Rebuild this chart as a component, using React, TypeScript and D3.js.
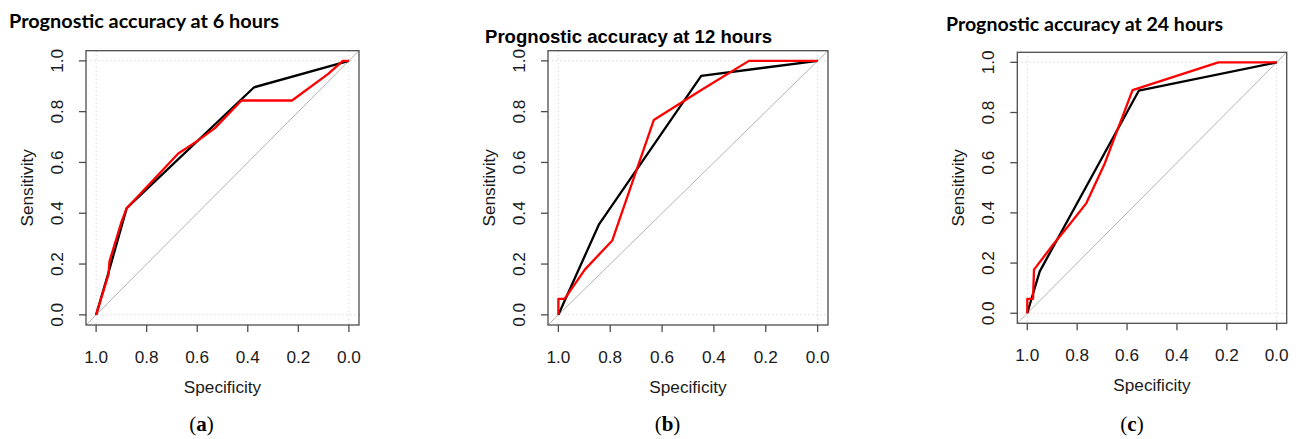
import React from "react";
import * as d3 from "d3";

// ---------- data ----------
const xTickValues = [1.0, 0.8, 0.6, 0.4, 0.2, 0.0];
const xTickLabels = ["1.0", "0.8", "0.6", "0.4", "0.2", "0.0"];
const yTickValues = [0.0, 0.2, 0.4, 0.6, 0.8, 1.0];
const yTickLabels = ["0.0", "0.2", "0.4", "0.6", "0.8", "1.0"];
const gridValues = [0, 1];

const titles = [
  "Prognostic accuracy at 6 hours",
  "Prognostic accuracy at 12 hours",
  "Prognostic accuracy at 24 hours",
];
const captions = ["a", "b", "c"];
const xAxisTitle = "Specificity";
const yAxisTitle = "Sensitivity";

// 6 hours
const h6BlackSpec = [1.0, 0.951, 0.879, 0.375, 0.0];
const h6BlackSens = [0.0, 0.166, 0.42, 0.896, 1.0];
const h6RedSpec = [1.0, 0.951, 0.947, 0.899, 0.879, 0.675, 0.596, 0.53, 0.425, 0.225, 0.083, 0.024, 0.0];
const h6RedSens = [0.0, 0.159, 0.211, 0.368, 0.42, 0.635, 0.687, 0.735, 0.844, 0.844, 0.948, 1.0, 1.0];

// 12 hours
const h12BlackSpec = [1.0, 0.844, 0.449, 0.0];
const h12BlackSens = [0.0, 0.355, 0.941, 1.0];
const h12RedSpec = [1.0, 1.0, 0.976, 0.898, 0.792, 0.632, 0.447, 0.265, 0.0];
const h12RedSens = [0.0, 0.063, 0.063, 0.178, 0.293, 0.767, 0.886, 1.0, 1.0];

// 24 hours
const h24BlackSpec = [1.0, 0.98, 0.95, 0.553, 0.0];
const h24BlackSens = [0.0, 0.068, 0.167, 0.887, 1.0];
const h24RedSpec = [1.0, 1.0, 0.977, 0.973, 0.897, 0.837, 0.763, 0.689, 0.578, 0.234, 0.0];
const h24RedSens = [0.0, 0.057, 0.057, 0.174, 0.273, 0.346, 0.439, 0.598, 0.889, 1.0, 1.0];

const panelSeries = [
  { blackSpec: h6BlackSpec, blackSens: h6BlackSens, redSpec: h6RedSpec, redSens: h6RedSens },
  { blackSpec: h12BlackSpec, blackSens: h12BlackSens, redSpec: h12RedSpec, redSens: h12RedSens },
  { blackSpec: h24BlackSpec, blackSens: h24BlackSens, redSpec: h24RedSpec, redSens: h24RedSens },
];

// ---------- layout ----------
const layouts = [
  {
    box: { l: 86, t: 50.7, r: 359, b: 325 },
    title: { x: 9, y: 28.3, w: 270, font: "Lato, 'Open Sans', sans-serif", size: 19 },
    captionX: 201.5,
  },
  {
    box: { l: 548, t: 50.7, r: 828, b: 325 },
    title: { x: 485, y: 43.3, w: 287, font: "'Liberation Sans', Arial, sans-serif", size: 18.5 },
    captionX: 667.5,
  },
  {
    box: { l: 1017.3, t: 52.3, r: 1286.7, b: 323.3 },
    title: { x: 946, y: 30.5, w: 277, font: "Lato, 'Open Sans', sans-serif", size: 19 },
    captionX: 1132,
  },
];

const axisFont = "'Liberation Sans', Arial, Helvetica, sans-serif";
const axisSize = 17.2;

function Panel({ idx }: { idx: number }) {
  const L = layouts[idx];
  const S = panelSeries[idx];
  const { l, t, r, b } = L.box;
  const ext = 0.04;
  const x = d3.scaleLinear().domain([1 + ext, -ext]).range([l, r]);
  const y = d3.scaleLinear().domain([-ext, 1 + ext]).range([b, t]);

  const mk = (sp: number[], se: number[]) =>
    d3
      .line<number>()
      .x((_, i) => x(sp[i]))
      .y((_, i) => y(se[i]))(sp.map((_, i) => i)) || "";

  const blackPath = mk(S.blackSpec, S.blackSens);
  const redPath = mk(S.redSpec, S.redSens);

  const tickLen = 7;
  const boxStroke = "#4d4d4d";
  const clipId = `clip-${idx}`;

  const xTitleX = (x(1) + x(0)) / 2;
  const yTitleY = (y(0) + y(1)) / 2;

  return (
    <g>
      <defs>
        <clipPath id={clipId}>
          <rect x={l} y={t} width={r - l} height={b - t} />
        </clipPath>
      </defs>
      <text
        x={L.title.x}
        y={L.title.y}
        fontFamily={L.title.font}
        fontWeight="bold"
        fontSize={L.title.size}
        textLength={L.title.w}
        lengthAdjust="spacingAndGlyphs"
        fill="#000"
      >
        {titles[idx]}
      </text>

      <g clipPath={`url(#${clipId})`}>
        {gridValues.map((g) => (
          <line
            key={"gv" + g}
            x1={x(g)}
            x2={x(g)}
            y1={t}
            y2={b}
            stroke="#d9d9d9"
            strokeWidth={1}
            strokeDasharray="1.5,2.5"
          />
        ))}
        {gridValues.map((g) => (
          <line
            key={"gh" + g}
            x1={l}
            x2={r}
            y1={y(g)}
            y2={y(g)}
            stroke="#d9d9d9"
            strokeWidth={1}
            strokeDasharray="1.5,2.5"
          />
        ))}
        <line
          x1={x(1 + ext)}
          y1={y(-ext)}
          x2={x(-ext)}
          y2={y(1 + ext)}
          stroke="#b3b3b3"
          strokeWidth={1}
        />
        <path d={blackPath} fill="none" stroke="#000" strokeWidth={2.3} strokeLinejoin="round" />
        <path d={redPath} fill="none" stroke="#ff0000" strokeWidth={2.3} strokeLinejoin="round" />
      </g>

      <rect x={l} y={t} width={r - l} height={b - t} fill="none" stroke={boxStroke} strokeWidth={1.3} />

      {xTickValues.map((v, i) => (
        <g key={"xt" + i}>
          <line x1={x(v)} x2={x(v)} y1={b} y2={b + tickLen} stroke={boxStroke} strokeWidth={1.3} />
          <text
            x={x(v)}
            y={b + 38}
            textAnchor="middle"
            fontFamily={axisFont}
            fontSize={axisSize}
            fill="#1a1a1a"
          >
            {xTickLabels[i]}
          </text>
        </g>
      ))}
      <text
        x={xTitleX}
        y={b + 68}
        textAnchor="middle"
        fontFamily={axisFont}
        fontSize={axisSize}
        fill="#1a1a1a"
      >
        {xAxisTitle}
      </text>

      {yTickValues.map((v, i) => (
        <g key={"yt" + i}>
          <line x1={l} x2={l - tickLen} y1={y(v)} y2={y(v)} stroke={boxStroke} strokeWidth={1.3} />
          <text
            transform={`translate(${l - 23}, ${y(v)}) rotate(-90)`}
            textAnchor="middle"
            fontFamily={axisFont}
            fontSize={axisSize}
            fill="#1a1a1a"
          >
            {yTickLabels[i]}
          </text>
        </g>
      ))}
      <text
        transform={`translate(${l - 53}, ${yTitleY}) rotate(-90)`}
        textAnchor="middle"
        fontFamily={axisFont}
        fontSize={axisSize}
        fill="#1a1a1a"
      >
        {yAxisTitle}
      </text>

      <text
        x={L.captionX}
        y={431}
        textAnchor="middle"
        fontFamily="'Liberation Serif', 'DejaVu Serif', serif"
        fontSize={21}
        fill="#000"
      >
        (<tspan fontWeight="bold">{captions[idx]}</tspan>)
      </text>
    </g>
  );
}

export default function App() {
  return (
    <svg
      width={1296}
      height={439}
      viewBox="0 0 1296 439"
      style={{ position: "absolute", left: 0, top: 0, background: "#fff" }}
    >
      <rect x={0} y={0} width={1296} height={439} fill="#fff" />
      {[0, 1, 2].map((i) => (
        <Panel key={i} idx={i} />
      ))}
    </svg>
  );
}
